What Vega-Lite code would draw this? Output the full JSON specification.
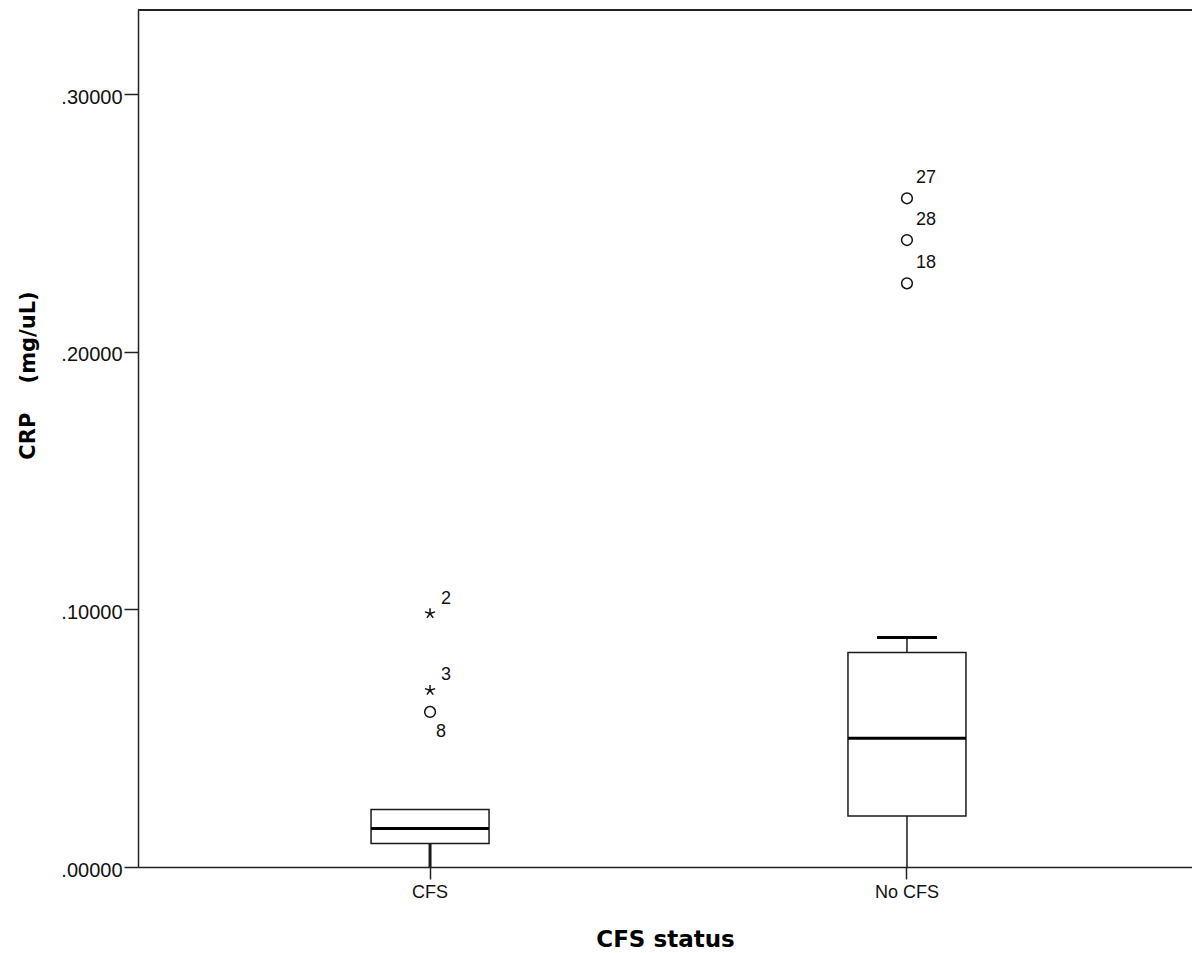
{
  "$schema": "https://vega.github.io/schema/vega-lite/v6.json",
  "autosize": {"type": "none"},
  "width": 1054,
  "height": 857,
  "padding": {"left": 138, "top": 10, "right": 0, "bottom": 86},
  "background": "white",
  "config": {
    "view": {"stroke": null},
    "axis": {
      "domainColor": "#222222",
      "domainWidth": 1.5,
      "tickColor": "#222222",
      "tickWidth": 1.5,
      "grid": false,
      "labelFont": "Liberation Sans",
      "labelFontSize": 18,
      "labelColor": "#111111",
      "titleFont": "DejaVu Sans",
      "titleFontWeight": "bold",
      "titleColor": "#000000"
    }
  },
  "datasets": {
    "boxes": [
      {"group": "CFS", "lower": 0.0, "q1": 0.0091, "median": 0.0149, "q3": 0.0223, "upper": 0.0223},
      {"group": "No CFS", "lower": 0.0, "q1": 0.0198, "median": 0.0500, "q3": 0.0833, "upper": 0.0891}
    ],
    "outliers": [
      {"group": "CFS", "value": 0.0984, "label": "2", "kind": "extreme"},
      {"group": "CFS", "value": 0.0686, "label": "3", "kind": "extreme"},
      {"group": "CFS", "value": 0.0602, "label": "8", "kind": "outlier"},
      {"group": "No CFS", "value": 0.2596, "label": "27", "kind": "outlier"},
      {"group": "No CFS", "value": 0.2434, "label": "28", "kind": "outlier"},
      {"group": "No CFS", "value": 0.2266, "label": "18", "kind": "outlier"}
    ],
    "frame": [{"top": 0.3327}]
  },
  "encoding": {
    "x": {
      "field": "group",
      "type": "nominal",
      "scale": {"domain": ["CFS", "No CFS"], "paddingInner": 0, "paddingOuter": 0.105, "align": 0.535},
      "axis": {
        "title": "CFS status",
        "titleFontSize": 23,
        "titlePadding": 27,
        "labelAngle": 0,
        "tickSize": 12,
        "labelPadding": 4
      }
    }
  },
  "layer": [
    {
      "data": {"name": "boxes"},
      "mark": {"type": "rule", "color": "#1a1a1a"},
      "encoding": {
        "y": {
          "field": "lower",
          "type": "quantitative",
          "scale": {"domain": [0, 0.3327], "nice": false, "zero": false},
          "axis": {
            "values": [0, 0.1, 0.2, 0.3],
            "labelExpr": "substring(format(datum.value, '.5f'), 1)",
            "labelFontSize": 20,
            "tickSize": 14,
            "labelPadding": 2,
            "labelOffset": 3,
            "title": "CRP\u00a0\u00a0\u00a0\u00a0(mg/uL)",
            "titleFontSize": 21,
            "titlePadding": 22,
            "titleY": 365
          }
        },
        "y2": {"field": "q1"},
        "strokeWidth": {
          "field": "group",
          "type": "nominal",
          "scale": {"domain": ["CFS", "No CFS"], "range": [3, 1.5]},
          "legend": null
        }
      }
    },
    {
      "data": {"name": "boxes"},
      "mark": {"type": "rule", "color": "#1a1a1a", "strokeWidth": 1.5},
      "encoding": {
        "y": {"field": "q3", "type": "quantitative"},
        "y2": {"field": "upper"}
      }
    },
    {
      "data": {"name": "boxes"},
      "mark": {"type": "bar", "size": 118, "fill": "white", "stroke": "#1a1a1a", "strokeWidth": 1.5},
      "encoding": {
        "y": {"field": "q1", "type": "quantitative"},
        "y2": {"field": "q3"}
      }
    },
    {
      "data": {"name": "boxes"},
      "mark": {"type": "tick", "size": 118, "thickness": 3, "color": "#000000", "opacity": 1},
      "encoding": {
        "y": {"field": "median", "type": "quantitative"}
      }
    },
    {
      "data": {"name": "boxes"},
      "transform": [{"filter": "datum.upper > datum.q3"}],
      "mark": {"type": "tick", "size": 60, "thickness": 3, "color": "#000000", "opacity": 1},
      "encoding": {
        "y": {"field": "upper", "type": "quantitative"}
      }
    },
    {
      "data": {"name": "outliers"},
      "mark": {"type": "point", "filled": false, "strokeWidth": 1.5, "size": 115, "opacity": 1, "color": "#111111"},
      "encoding": {
        "y": {"field": "value", "type": "quantitative"},
        "shape": {
          "field": "kind",
          "type": "nominal",
          "scale": {
            "domain": ["outlier", "extreme"],
            "range": ["circle", "M0,0L0,-1M0,0L0.951,-0.309M0,0L0.588,0.809M0,0L-0.588,0.809M0,0L-0.951,-0.309"]
          },
          "legend": null
        }
      }
    },
    {
      "data": {"name": "outliers"},
      "transform": [{"filter": "datum.group == 'CFS' && datum.label != '8'"}],
      "mark": {"type": "text", "align": "left", "baseline": "middle", "dx": 11, "dy": -15, "font": "Liberation Sans", "fontSize": 18, "color": "#111111"},
      "encoding": {
        "y": {"field": "value", "type": "quantitative"},
        "text": {"field": "label"}
      }
    },
    {
      "data": {"name": "outliers"},
      "transform": [{"filter": "datum.label == '8'"}],
      "mark": {"type": "text", "align": "left", "baseline": "middle", "dx": 6, "dy": 20, "font": "Liberation Sans", "fontSize": 18, "color": "#111111"},
      "encoding": {
        "y": {"field": "value", "type": "quantitative"},
        "text": {"field": "label"}
      }
    },
    {
      "data": {"name": "outliers"},
      "transform": [{"filter": "datum.group == 'No CFS'"}],
      "mark": {"type": "text", "align": "left", "baseline": "middle", "dx": 9, "dy": -20, "font": "Liberation Sans", "fontSize": 18, "color": "#111111"},
      "encoding": {
        "y": {"field": "value", "type": "quantitative"},
        "text": {"field": "label"}
      }
    },
    {
      "data": {"name": "frame"},
      "mark": {"type": "rule", "color": "#222222", "strokeWidth": 2},
      "encoding": {
        "x": null,
        "y": {"field": "top", "type": "quantitative"}
      }
    }
  ]
}
